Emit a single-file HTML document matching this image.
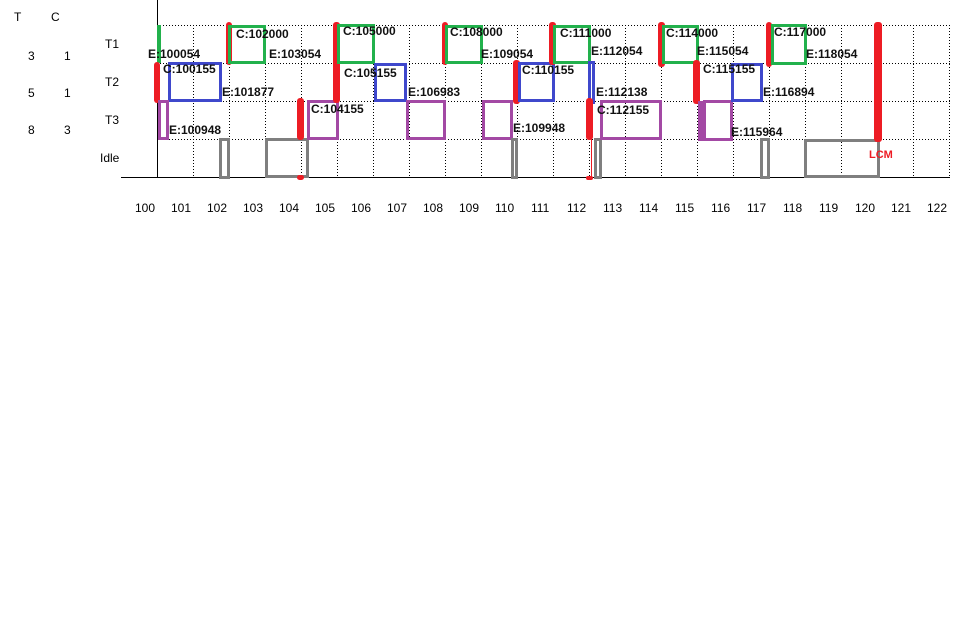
<!DOCTYPE html>
<html><head><meta charset="utf-8"><style>
body{margin:0;width:966px;height:623px;background:#fff;position:relative;overflow:hidden;font-family:"Liberation Sans",sans-serif}
div{position:absolute;box-sizing:border-box}
.t{font-size:12px;line-height:14px;white-space:nowrap;color:#000}
.b{font-weight:bold;font-size:12px;line-height:14px;white-space:nowrap;color:#111}
.g{border:3px solid #22b14c}
.bl{border:3px solid #3f48cc}
.p{border:3px solid #a349a4}
.gr{border:3px solid #7f7f7f}
.r{background:#ed1c24;border-radius:3px}
</style></head><body>
<svg width="966" height="623" style="position:absolute;left:0;top:0">
<g stroke="#000" stroke-width="1" stroke-dasharray="1,2">
<line x1="157" y1="25.5" x2="950" y2="25.5"/>
<line x1="157" y1="63.5" x2="950" y2="63.5"/>
<line x1="157" y1="101.5" x2="950" y2="101.5"/>
<line x1="157" y1="139.5" x2="950" y2="139.5"/>
<line x1="193.5" y1="25" x2="193.5" y2="177"/>
<line x1="229.5" y1="25" x2="229.5" y2="177"/>
<line x1="265.5" y1="25" x2="265.5" y2="177"/>
<line x1="301.5" y1="25" x2="301.5" y2="177"/>
<line x1="337.5" y1="25" x2="337.5" y2="177"/>
<line x1="373.5" y1="25" x2="373.5" y2="177"/>
<line x1="409.5" y1="25" x2="409.5" y2="177"/>
<line x1="445.5" y1="25" x2="445.5" y2="177"/>
<line x1="481.5" y1="25" x2="481.5" y2="177"/>
<line x1="517.5" y1="25" x2="517.5" y2="177"/>
<line x1="553.5" y1="25" x2="553.5" y2="177"/>
<line x1="589.5" y1="25" x2="589.5" y2="177"/>
<line x1="625.5" y1="25" x2="625.5" y2="177"/>
<line x1="661.5" y1="25" x2="661.5" y2="177"/>
<line x1="697.5" y1="25" x2="697.5" y2="177"/>
<line x1="733.5" y1="25" x2="733.5" y2="177"/>
<line x1="769.5" y1="25" x2="769.5" y2="177"/>
<line x1="805.5" y1="25" x2="805.5" y2="177"/>
<line x1="841.5" y1="25" x2="841.5" y2="177"/>
<line x1="877.5" y1="25" x2="877.5" y2="177"/>
<line x1="913.5" y1="25" x2="913.5" y2="177"/>
<line x1="949.5" y1="25" x2="949.5" y2="177"/>
</g>
<line x1="157.5" y1="0" x2="157.5" y2="177" stroke="#000"/>
<line x1="121" y1="177.5" x2="950" y2="177.5" stroke="#000"/>
</svg>

<!-- left table -->
<div class="t" style="left:14px;top:10px">T</div>
<div class="t" style="left:51px;top:10px">C</div>
<div class="t" style="left:28px;top:49px">3</div>
<div class="t" style="left:64px;top:49px">1</div>
<div class="t" style="left:28px;top:86px">5</div>
<div class="t" style="left:64px;top:86px">1</div>
<div class="t" style="left:28px;top:123px">8</div>
<div class="t" style="left:64px;top:123px">3</div>
<div class="t" style="left:105px;top:37px">T1</div>
<div class="t" style="left:105px;top:75px">T2</div>
<div class="t" style="left:105px;top:113px">T3</div>
<div class="t" style="left:100px;top:151px">Idle</div>

<!-- boxes -->
<div style="left:157px;top:25px;width:4px;height:38px;background:#22b14c"></div>
<div class="r" style="left:154px;top:62px;width:6px;height:41px"></div>
<div class="bl" style="left:168px;top:62px;width:54px;height:40px"></div>
<div class="p" style="left:158px;top:100px;width:11px;height:40px"></div>
<div class="r" style="left:226px;top:22px;width:6px;height:43px"></div>
<div class="g" style="left:228px;top:25px;width:38px;height:39px"></div>
<div class="gr" style="left:219px;top:138px;width:11px;height:41px"></div>
<div class="gr" style="left:265px;top:138px;width:44px;height:40px"></div>
<div class="r" style="left:297px;top:98px;width:7px;height:42px"></div>
<div class="r" style="left:297px;top:175px;width:7px;height:5px"></div>
<div class="p" style="left:307px;top:100px;width:32px;height:40px"></div>
<div class="r" style="left:333px;top:22px;width:7px;height:81px"></div>
<div class="g" style="left:337px;top:24px;width:38px;height:40px"></div>
<div class="bl" style="left:374px;top:63px;width:33px;height:39px"></div>
<div class="p" style="left:406px;top:100px;width:40px;height:40px"></div>
<div class="r" style="left:442px;top:22px;width:6px;height:43px"></div>
<div class="g" style="left:445px;top:25px;width:38px;height:39px"></div>
<div class="p" style="left:482px;top:100px;width:31px;height:40px"></div>
<div class="gr" style="left:511px;top:138px;width:7px;height:41px"></div>
<div class="r" style="left:513px;top:60px;width:7px;height:44px"></div>
<div class="bl" style="left:518px;top:62px;width:37px;height:40px"></div>
<div class="r" style="left:549px;top:22px;width:7px;height:43px"></div>
<div class="g" style="left:553px;top:25px;width:38px;height:39px"></div>
<div class="bl" style="left:588px;top:61px;width:7px;height:43px"></div>
<div class="r" style="left:586px;top:98px;width:7px;height:42px"></div>
<div style="left:591px;top:139px;width:1px;height:39px;background:#ed1c24"></div>
<div class="r" style="left:586px;top:176px;width:7px;height:4px"></div>
<div class="gr" style="left:594px;top:138px;width:8px;height:41px"></div>
<div class="p" style="left:600px;top:100px;width:62px;height:40px"></div>
<div class="r" style="left:658px;top:22px;width:7px;height:45px"></div>
<div class="g" style="left:662px;top:25px;width:37px;height:39px"></div>
<div class="r" style="left:693px;top:60px;width:7px;height:44px"></div>
<div style="left:698px;top:101px;width:5px;height:40px;background:#a349a4"></div>
<div class="p" style="left:703px;top:100px;width:30px;height:41px"></div>
<div class="bl" style="left:731px;top:63px;width:32px;height:39px"></div>
<div class="r" style="left:766px;top:22px;width:6px;height:45px"></div>
<div class="g" style="left:771px;top:24px;width:36px;height:41px"></div>
<div class="gr" style="left:760px;top:138px;width:10px;height:41px"></div>
<div class="gr" style="left:804px;top:139px;width:76px;height:39px"></div>
<div class="r" style="left:874px;top:22px;width:8px;height:120px"></div>
<div class="b" style="left:869px;top:148px;color:#ed1c24;font-size:11px">LCM</div>

<!-- labels -->
<div class="b" style="left:148px;top:47px">E:100054</div>
<div class="b" style="left:163px;top:62px">C:100155</div>
<div class="b" style="left:222px;top:85px">E:101877</div>
<div class="b" style="left:169px;top:123px">E:100948</div>
<div class="b" style="left:236px;top:27px">C:102000</div>
<div class="b" style="left:269px;top:47px">E:103054</div>
<div class="b" style="left:311px;top:102px">C:104155</div>
<div class="b" style="left:343px;top:24px">C:105000</div>
<div class="b" style="left:344px;top:66px">C:105155</div>
<div class="b" style="left:408px;top:85px">E:106983</div>
<div class="b" style="left:450px;top:25px">C:108000</div>
<div class="b" style="left:481px;top:47px">E:109054</div>
<div class="b" style="left:522px;top:63px">C:110155</div>
<div class="b" style="left:513px;top:121px">E:109948</div>
<div class="b" style="left:560px;top:26px">C:111000</div>
<div class="b" style="left:591px;top:44px">E:112054</div>
<div class="b" style="left:596px;top:85px">E:112138</div>
<div class="b" style="left:597px;top:103px">C:112155</div>
<div class="b" style="left:666px;top:26px">C:114000</div>
<div class="b" style="left:697px;top:44px">E:115054</div>
<div class="b" style="left:703px;top:62px">C:115155</div>
<div class="b" style="left:731px;top:125px">E:115964</div>
<div class="b" style="left:774px;top:25px">C:117000</div>
<div class="b" style="left:763px;top:85px">E:116894</div>
<div class="b" style="left:806px;top:47px">E:118054</div>

<!-- ticks -->
<div class="t" style="left:135px;top:201px">100</div>
<div class="t" style="left:171px;top:201px">101</div>
<div class="t" style="left:207px;top:201px">102</div>
<div class="t" style="left:243px;top:201px">103</div>
<div class="t" style="left:279px;top:201px">104</div>
<div class="t" style="left:315px;top:201px">105</div>
<div class="t" style="left:351px;top:201px">106</div>
<div class="t" style="left:387px;top:201px">107</div>
<div class="t" style="left:423px;top:201px">108</div>
<div class="t" style="left:459px;top:201px">109</div>
<div class="t" style="left:495px;top:201px">110</div>
<div class="t" style="left:531px;top:201px">111</div>
<div class="t" style="left:567px;top:201px">112</div>
<div class="t" style="left:603px;top:201px">113</div>
<div class="t" style="left:639px;top:201px">114</div>
<div class="t" style="left:675px;top:201px">115</div>
<div class="t" style="left:711px;top:201px">116</div>
<div class="t" style="left:747px;top:201px">117</div>
<div class="t" style="left:783px;top:201px">118</div>
<div class="t" style="left:819px;top:201px">119</div>
<div class="t" style="left:855px;top:201px">120</div>
<div class="t" style="left:891px;top:201px">121</div>
<div class="t" style="left:927px;top:201px">122</div>
</body></html>
